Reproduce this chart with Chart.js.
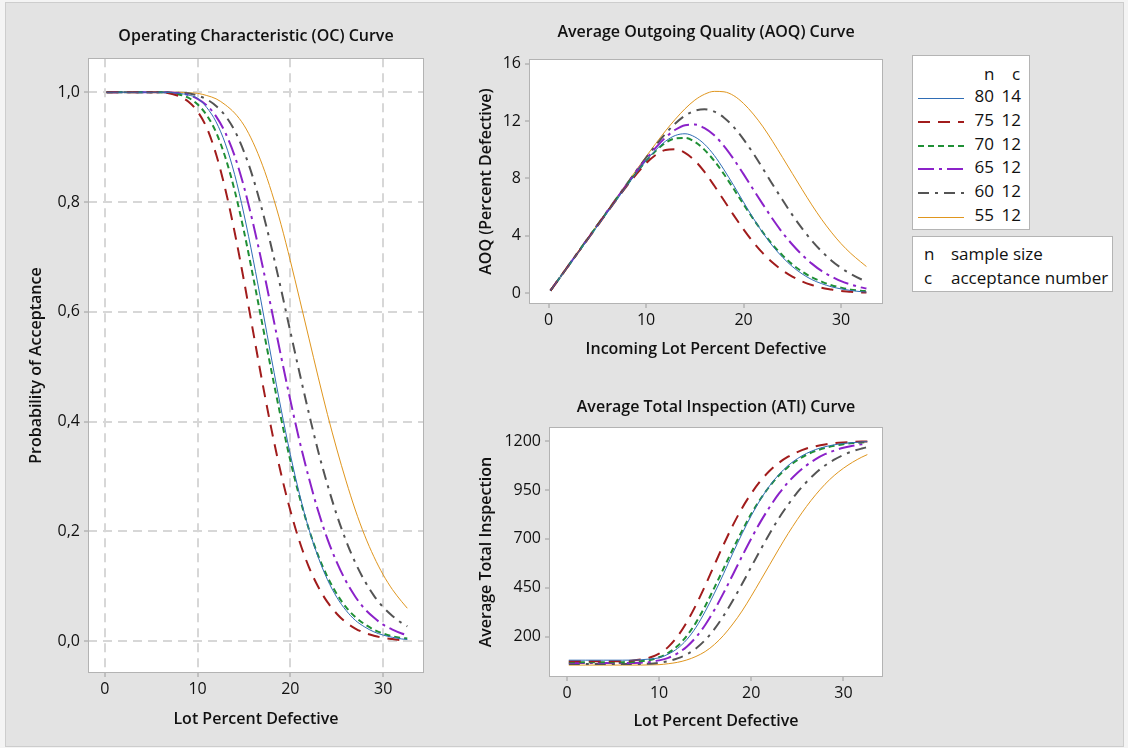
<!DOCTYPE html>
<html>
<head>
<meta charset="utf-8">
<script src="https://cdn.jsdelivr.net/npm/chart.js@4.4.1/dist/chart.umd.min.js"></script>
<style>
  body { margin:0; width:1128px; height:748px; background:#f4f4f4; position:relative; overflow:hidden;
         font-family:"Open Sans", "Noto Sans", sans-serif; color:#111; }
  #frame { position:absolute; left:5px; top:2px; width:1119px; height:745px; background:#e3e3e3;
           border:1px solid #cdcdcd; box-sizing:border-box; }
  canvas { position:absolute; }
  .box { position:absolute; background:#fff; border:1px solid #b4b4b4; box-sizing:border-box; font-size:17px; }
  .box span { position:absolute; line-height:20px; white-space:nowrap; }
  .box svg { position:absolute; }
</style>
</head>
<body>
<div id="frame"></div>
<canvas id="oc" width="430" height="730" style="left:10px;top:10px"></canvas>
<canvas id="aoq" width="445" height="360" style="left:450px;top:10px"></canvas>
<canvas id="ati" width="445" height="360" style="left:450px;top:380px"></canvas>
<div id="leg1" class="box" style="left:912px;top:55px;width:118px;height:175px"></div>
<div id="leg2" class="box" style="left:912px;top:236px;width:201px;height:56px"></div>
<script>
// lot percent defective where the curves were read
const defectPct = [0.2, 2, 4, 6, 8, 9, 10, 11, 12, 13, 14, 15, 16, 17, 18, 19, 20, 21, 22, 23, 24, 25, 26, 27, 28, 29, 30, 31, 32, 32.6];

const sampleSizes = [80, 75, 70, 65, 60, 55];
const acceptNums = [14, 12, 12, 12, 12, 12];

// probability of acceptance
const oc80 = [1, 1, 1, 1, 0.998, 0.995, 0.989, 0.972, 0.946, 0.906, 0.850, 0.778, 0.695, 0.605, 0.512, 0.423, 0.340, 0.267, 0.204, 0.153, 0.112, 0.080, 0.056, 0.038, 0.026, 0.017, 0.011, 0.007, 0.004, 0.003];
const oc75 = [1, 1, 1, 1, 0.993, 0.983, 0.965, 0.935, 0.887, 0.823, 0.745, 0.657, 0.563, 0.470, 0.383, 0.305, 0.238, 0.181, 0.135, 0.099, 0.071, 0.050, 0.034, 0.023, 0.015, 0.010, 0.006, 0.004, 0.002, 0.002];
const oc70 = [1, 1, 1, 1, 0.996, 0.990, 0.978, 0.958, 0.927, 0.881, 0.821, 0.747, 0.663, 0.576, 0.489, 0.406, 0.329, 0.262, 0.204, 0.156, 0.117, 0.086, 0.062, 0.044, 0.031, 0.021, 0.014, 0.009, 0.006, 0.005];
const oc65 = [1, 1, 1, 1, 0.998, 0.995, 0.988, 0.976, 0.956, 0.926, 0.884, 0.828, 0.760, 0.684, 0.602, 0.519, 0.439, 0.364, 0.297, 0.237, 0.186, 0.144, 0.109, 0.081, 0.059, 0.043, 0.030, 0.021, 0.014, 0.011];
const oc60 = [1, 1, 1, 1, 0.999, 0.998, 0.994, 0.987, 0.975, 0.957, 0.930, 0.892, 0.843, 0.783, 0.715, 0.641, 0.564, 0.488, 0.415, 0.346, 0.285, 0.230, 0.183, 0.143, 0.110, 0.083, 0.062, 0.046, 0.033, 0.027];
const oc55 = [1, 1, 1, 1, 1, 0.999, 0.998, 0.994, 0.988, 0.977, 0.962, 0.940, 0.908, 0.867, 0.817, 0.759, 0.693, 0.623, 0.552, 0.481, 0.413, 0.350, 0.292, 0.239, 0.193, 0.154, 0.121, 0.094, 0.072, 0.060];

// average outgoing quality (percent defective)
const aoq80 = [0.19, 1.87, 3.73, 5.60, 7.45, 8.36, 9.23, 9.98, 10.59, 10.99, 11.11, 10.89, 10.38, 9.60, 8.60, 7.50, 6.35, 5.23, 4.19, 3.28, 2.51, 1.87, 1.36, 0.96, 0.68, 0.46, 0.31, 0.20, 0.12, 0.09];
const aoq75 = [0.19, 1.88, 3.75, 5.63, 7.45, 8.29, 9.05, 9.64, 9.98, 10.03, 9.78, 9.24, 8.45, 7.49, 6.46, 5.43, 4.46, 3.56, 2.78, 2.13, 1.60, 1.17, 0.83, 0.58, 0.39, 0.27, 0.17, 0.12, 0.06, 0.06];
const aoq70 = [0.19, 1.88, 3.77, 5.65, 7.50, 8.39, 9.21, 9.92, 10.48, 10.79, 10.82, 10.55, 9.99, 9.22, 8.29, 7.26, 6.20, 5.18, 4.23, 3.38, 2.64, 2.02, 1.52, 1.12, 0.82, 0.57, 0.40, 0.26, 0.18, 0.15];
const aoq65 = [0.19, 1.89, 3.78, 5.67, 7.55, 8.47, 9.34, 10.15, 10.85, 11.39, 11.71, 11.75, 11.50, 11.00, 10.25, 9.33, 8.30, 7.23, 6.18, 5.16, 4.22, 3.40, 2.68, 2.07, 1.56, 1.18, 0.85, 0.62, 0.42, 0.34];
const aoq60 = [0.19, 1.90, 3.80, 5.70, 7.59, 8.53, 9.44, 10.31, 11.12, 11.82, 12.37, 12.71, 12.81, 12.65, 12.23, 11.57, 10.72, 9.74, 8.67, 7.56, 6.50, 5.46, 4.52, 3.67, 2.93, 2.29, 1.77, 1.35, 1.00, 0.84];
const aoq55 = [0.19, 1.91, 3.82, 5.73, 7.63, 8.58, 9.52, 10.43, 11.31, 12.12, 12.85, 13.45, 13.86, 14.06, 14.03, 13.76, 13.22, 12.48, 11.59, 10.56, 9.46, 8.35, 7.24, 6.16, 5.16, 4.26, 3.46, 2.78, 2.20, 1.87];

// average total inspection
const ati80 = [80, 80, 80, 80, 82, 86, 92, 111, 140, 185, 248, 329, 422, 522, 627, 726, 819, 901, 972, 1029, 1075, 1110, 1137, 1157, 1171, 1181, 1188, 1192, 1196, 1197];
const ati75 = [75, 75, 75, 75, 83, 94, 114, 148, 202, 274, 362, 461, 567, 671, 769, 857, 932, 996, 1048, 1089, 1120, 1144, 1162, 1174, 1183, 1189, 1193, 1196, 1198, 1198];
const ati70 = [70, 70, 70, 70, 75, 81, 95, 117, 152, 204, 272, 356, 451, 549, 647, 741, 828, 904, 969, 1024, 1068, 1103, 1130, 1150, 1165, 1176, 1184, 1190, 1193, 1194];
const ati65 = [65, 65, 65, 65, 67, 71, 79, 92, 115, 149, 197, 260, 337, 424, 517, 611, 702, 787, 863, 931, 989, 1037, 1076, 1108, 1133, 1151, 1166, 1176, 1184, 1188];
const ati60 = [60, 60, 60, 60, 61, 62, 67, 75, 89, 109, 140, 183, 239, 307, 385, 469, 557, 644, 727, 806, 875, 938, 991, 1037, 1075, 1105, 1129, 1148, 1162, 1169];
const ati55 = [55, 55, 55, 55, 55, 56, 57, 62, 69, 81, 99, 124, 160, 207, 265, 331, 407, 487, 568, 649, 727, 799, 866, 926, 979, 1024, 1061, 1092, 1118, 1131];

// tick labels
const pctTicks = [0, 10, 20, 30];
const ocTicks = [0, 0.2, 0.4, 0.6, 0.8, 1.0];
const aoqTicks = [0, 4, 8, 12, 16];
const atiTicks = [200, 450, 700, 950, 1200];

// line look for each plan
const lineColors = ['#2f6db5', '#a11c1c', '#1f8f35', '#8b22c9', '#545454', '#e0961e'];
const lineWidths = [1, 2, 2, 2, 2, 1];
const lineDashes = [[], [12, 8], [6, 4], [16, 5, 3, 5], [11, 6, 3, 6], []];

const ink = '#111111';
const fam = '"Open Sans", "Noto Sans", sans-serif';
Chart.defaults.font.family = fam;
Chart.defaults.color = ink;

const plotFrame = {
  id: 'plotFrame',
  beforeDraw(chart) {
    const a = chart.chartArea, c = chart.ctx;
    c.save();
    c.fillStyle = '#ffffff';
    c.fillRect(a.left, a.top, a.right - a.left, a.bottom - a.top);
    c.restore();
  },
  afterDraw(chart) {
    const a = chart.chartArea, c = chart.ctx;
    c.save();
    c.strokeStyle = '#b3b3b3';
    c.lineWidth = 1;
    c.strokeRect(Math.round(a.left) + 0.5, Math.round(a.top) + 0.5, Math.round(a.right - a.left) - 1, Math.round(a.bottom - a.top) - 1);
    c.restore();
  }
};

function makeDatasets(seriesList) {
  return seriesList.map((vals, i) => ({
    label: sampleSizes[i] + ' ' + acceptNums[i],
    data: defectPct.map((x, j) => ({ x: x, y: vals[j] })),
    borderColor: lineColors[i],
    borderWidth: lineWidths[i],
    borderDash: lineDashes[i],
    pointRadius: 0,
    fill: false,
    cubicInterpolationMode: 'monotone'
  }));
}

function makeChart(id, o) {
  const gridOn = !!o.grid;
  return new Chart(document.getElementById(id), {
    type: 'line',
    data: { datasets: makeDatasets(o.series) },
    options: {
      responsive: false,
      animation: false,
      layout: { padding: { left: 0, right: o.padRight, top: 0, bottom: 0 } },
      plugins: {
        legend: { display: false },
        tooltip: { enabled: false },
        title: {
          display: true, text: o.title, fullSize: false, color: ink,
          font: { family: fam, size: 16, weight: '600' },
          padding: o.titlePad
        }
      },
      scales: {
        x: {
          type: 'linear', min: o.xMin, max: o.xMax,
          afterFit: s => { s.height = o.xHeight; },
          afterBuildTicks: s => { s.ticks = pctTicks.map(v => ({ value: v })); },
          ticks: { color: ink, font: { size: 16 }, padding: 3, maxRotation: 0, autoSkip: false },
          grid: { drawOnChartArea: gridOn, color: '#d7d7d7', lineWidth: 2, tickLength: 4,
                  tickColor: '#9c9c9c', tickWidth: 1, tickBorderDash: [] },
          border: { display: false, dash: [9, 6] },
          title: { display: true, text: o.xTitle, color: ink, font: { size: 16, weight: '600' },
                   padding: { top: 0, bottom: o.xTitleBottom } }
        },
        y: {
          type: 'linear', min: o.yMin, max: o.yMax,
          afterFit: s => { s.width = o.yWidth; },
          afterBuildTicks: s => { s.ticks = o.yTicks.map(v => ({ value: v })); },
          ticks: { color: ink, font: { size: 16 }, padding: 4, callback: o.yFormat },
          grid: { drawOnChartArea: gridOn, color: '#d7d7d7', lineWidth: 2, tickLength: 4,
                  tickColor: '#9c9c9c', tickWidth: 1, tickBorderDash: [] },
          border: { display: false, dash: [9, 6] },
          title: { display: true, text: o.yTitle, color: ink, font: { size: 16, weight: '600' },
                   padding: { top: o.yTitleTop, bottom: 0 } }
        }
      }
    },
    plugins: [plotFrame]
  });
}

makeChart('oc', {
  series: [oc80, oc75, oc70, oc65, oc60, oc55],
  title: 'Operating Characteristic (OC) Curve',
  xTitle: 'Lot Percent Defective',
  yTitle: 'Probability of Acceptance',
  grid: true,
  xMin: -1.8, xMax: 34.4, yMin: -0.058, yMax: 1.062,
  yTicks: ocTicks, yFormat: v => v.toFixed(1).replace('.', ','),
  padRight: 16, yWidth: 78, xHeight: 67,
  titlePad: { top: 17, bottom: 12 }, xTitleBottom: 11, yTitleTop: 17
});

makeChart('aoq', {
  series: [aoq80, aoq75, aoq70, aoq65, aoq60, aoq55],
  title: 'Average Outgoing Quality (AOQ) Curve',
  xTitle: 'Incoming Lot Percent Defective',
  yTitle: 'AOQ (Percent Defective)',
  grid: false,
  xMin: -2.0, xMax: 34.3, yMin: -0.74, yMax: 16.3,
  yTicks: aoqTicks, yFormat: v => String(v),
  padRight: 12, yWidth: 79, xHeight: 66,
  titlePad: { top: 13, bottom: 17 }, xTitleBottom: 11, yTitleTop: 27
});

makeChart('ati', {
  series: [ati80, ati75, ati70, ati65, ati60, ati55],
  title: 'Average Total Inspection (ATI) Curve',
  xTitle: 'Lot Percent Defective',
  yTitle: 'Average Total Inspection',
  grid: false,
  xMin: -1.95, xMax: 34.3, yMin: -6, yMax: 1271,
  yTicks: atiTicks, yFormat: v => String(v),
  padRight: 12, yWidth: 99, xHeight: 63,
  titlePad: { top: 18, bottom: 10 }, xTitleBottom: 9, yTitleTop: 27
});

// legend boxes
function addSpan(box, text, css) {
  const s = document.createElement('span');
  s.textContent = text;
  Object.assign(s.style, css);
  box.appendChild(s);
}
const leg1 = document.getElementById('leg1');
addSpan(leg1, 'n', { left: '71px', top: '8px' });
addSpan(leg1, 'c', { left: '99px', top: '8px' });
sampleSizes.forEach((n, i) => {
  const cy = Math.round(40 + i * 23.8);
  const svg = document.createElementNS('http://www.w3.org/2000/svg', 'svg');
  svg.setAttribute('width', '48');
  svg.setAttribute('height', '6');
  svg.style.left = '5px';
  svg.style.top = (cy - 1) + 'px';
  const ln = document.createElementNS('http://www.w3.org/2000/svg', 'line');
  const yy = lineWidths[i] === 1 ? '3.5' : '3';
  ln.setAttribute('x1', '0'); ln.setAttribute('x2', '46');
  ln.setAttribute('y1', yy); ln.setAttribute('y2', yy);
  ln.setAttribute('stroke', lineColors[i]);
  ln.setAttribute('stroke-width', lineWidths[i] === 1 ? 1 : 2);
  if (lineDashes[i].length) ln.setAttribute('stroke-dasharray', lineDashes[i].join(' '));
  svg.appendChild(ln);
  leg1.appendChild(svg);
  addSpan(leg1, String(n), { right: (116 - 81) + 'px', top: (cy - 10) + 'px' });
  addSpan(leg1, String(acceptNums[i]), { right: (116 - 108) + 'px', top: (cy - 10) + 'px' });
});
const leg2 = document.getElementById('leg2');
addSpan(leg2, 'n', { left: '11px', top: '7px' });
addSpan(leg2, 'sample size', { left: '38px', top: '7px' });
addSpan(leg2, 'c', { left: '11px', top: '31px' });
addSpan(leg2, 'acceptance number', { left: '38px', top: '31px' });
</script>
</body>
</html>
